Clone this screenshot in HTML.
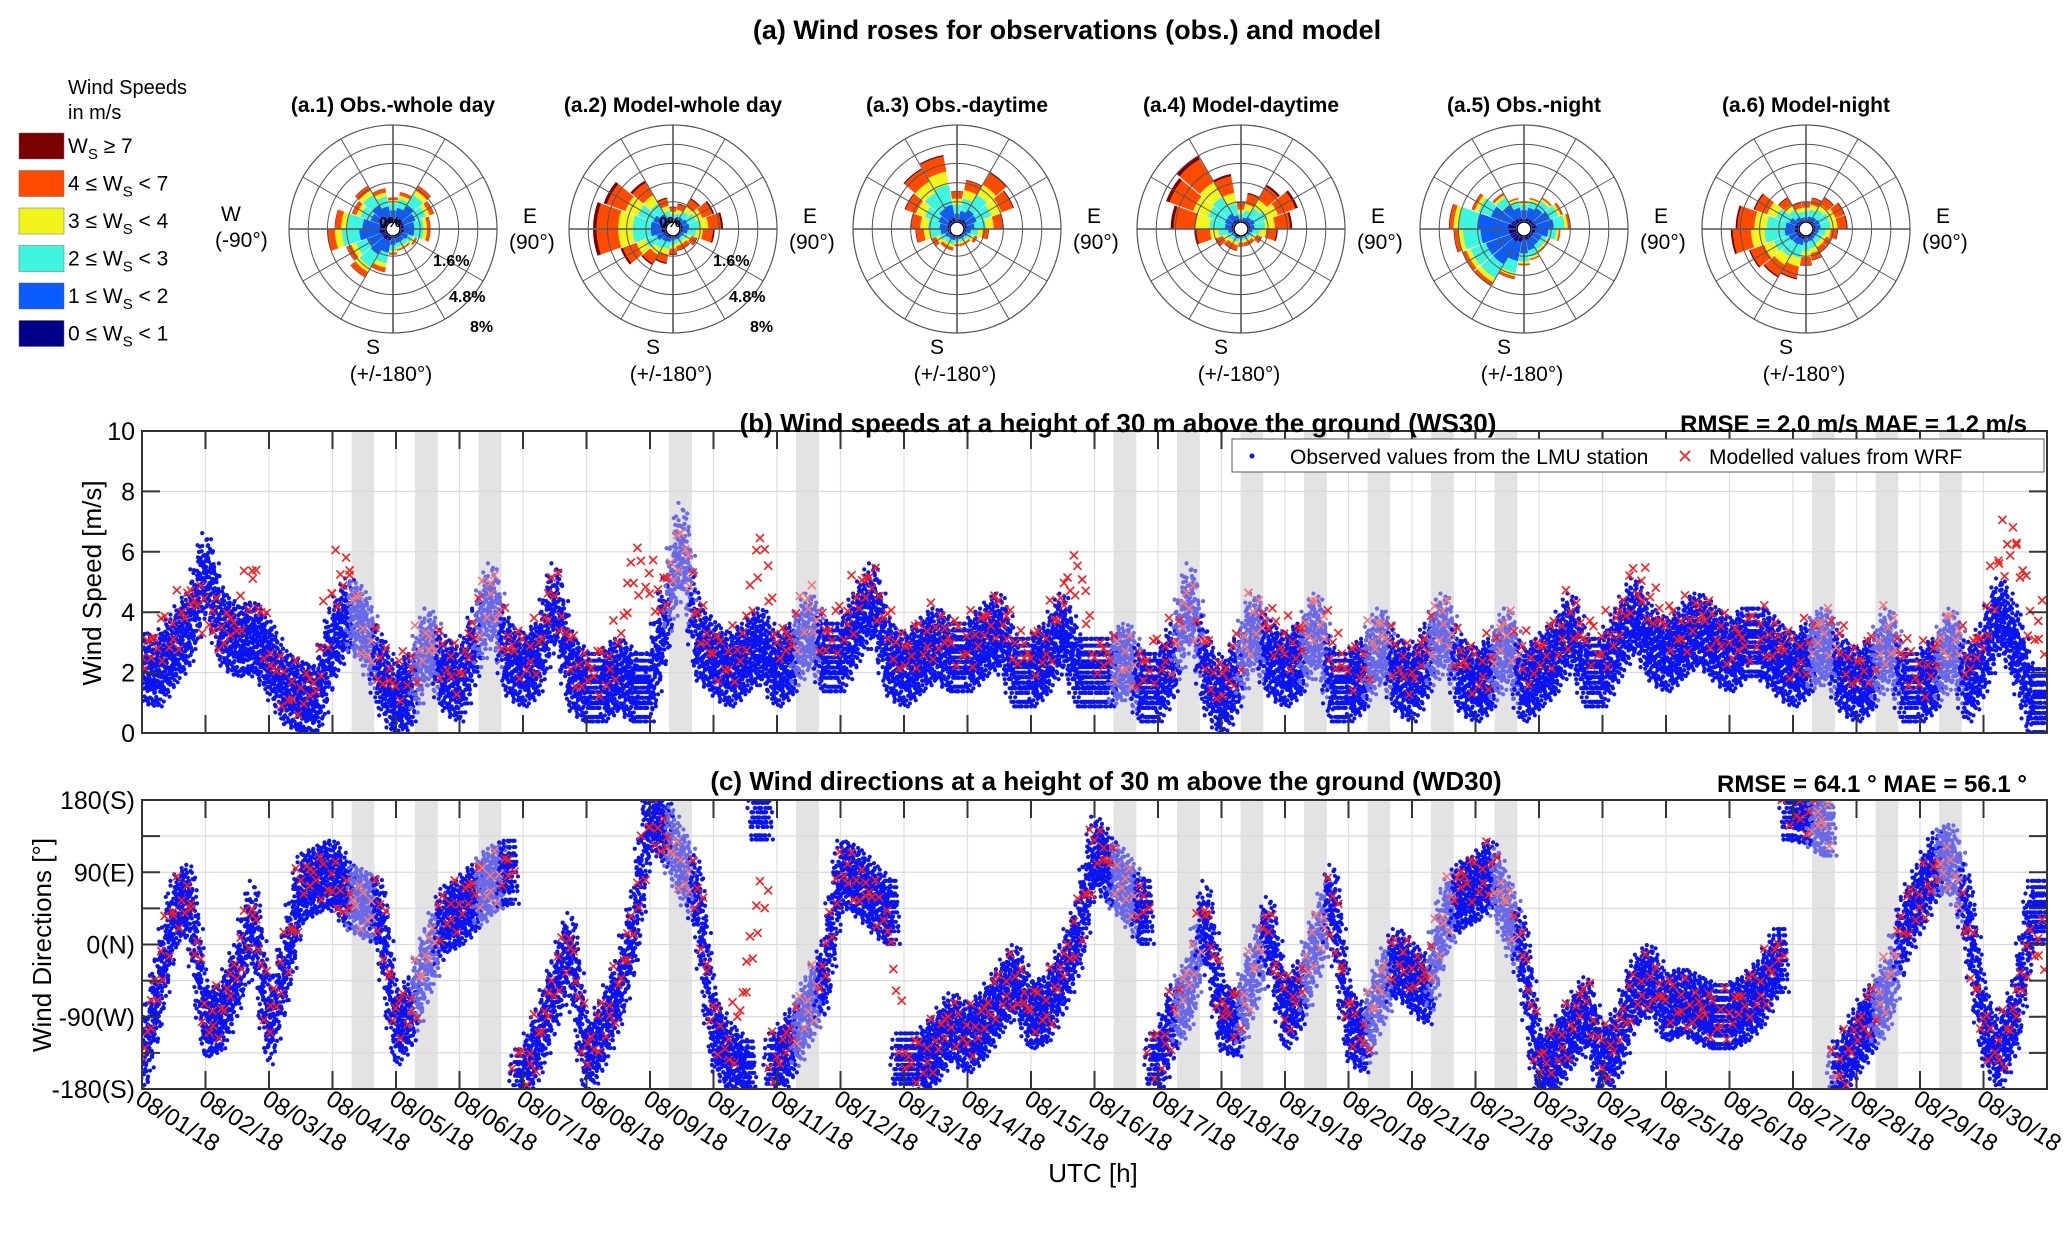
<!DOCTYPE html>
<html><head><meta charset="utf-8"><style>
body{margin:0;background:#fff}
svg{display:block;font-family:"Liberation Sans",Arial,sans-serif}
</style></head><body>
<svg id="fig" width="2067" height="1237" viewBox="0 0 2067 1237" xmlns="http://www.w3.org/2000/svg">
<defs>
<clipPath id="clipB"><rect x="142" y="431" width="1905" height="302"/></clipPath>
<clipPath id="clipC"><rect x="142" y="800" width="1905" height="289"/></clipPath>
</defs>
<text x="1067" y="39" text-anchor="middle" font-size="27" font-weight="bold">(a) Wind roses for observations (obs.) and model</text>
<g id="legendA">
<text x="68" y="94" font-size="20">Wind Speeds</text>
<text x="68" y="119" font-size="20">in m/s</text>
</g>
<g id="roses"></g>
<g id="panelB"></g>
<g id="panelC"></g>
</svg>
<script>
// ---------- data ----------
const speedClasses = ["W_S ≥ 7","4 ≤ W_S < 7","3 ≤ W_S < 4","2 ≤ W_S < 3","1 ≤ W_S < 2","0 ≤ W_S < 1"];
const classColors = ["#000088","#0a5cff","#3ef5e0","#f2f51a","#ff4a00","#7a0000"]; // inner->outer
const roseTitles = ["(a.1) Obs.-whole day","(a.2) Model-whole day","(a.3) Obs.-daytime","(a.4) Model-daytime","(a.5) Obs.-night","(a.6) Model-night"];
const roseA1 = [2,2.5,3.5,3,2.5,2.5,1.5,1.2,1.2,1.5,3,4,3.5,4.8,4.2,3,3.5,2.8];
const roseA2 = [1.2,1.5,2.3,3,3.5,2.8,1.5,1.2,1.2,1.5,2.3,2.8,4,6,6,5.5,4,2];
const roseA3 = [2.5,3.5,4.8,4.4,3.2,2,1.2,0.8,0.8,0.8,1.2,1.2,1.6,2.8,3.2,4,5.2,5.6];
const roseA4 = [1.6,2.4,3.6,4.4,3.6,2.4,1.2,0.8,0.8,0.8,1.2,1.2,1.6,3.2,5.2,6,6.4,4];
const roseA5 = [1.6,2,2.4,2.8,3.2,2.4,1.6,1.6,2,2.4,3.6,4.8,4.8,5.2,5.6,4,2.8,2];
const roseA6 = [1.6,2,2.4,2.8,2.8,2,1.6,1.6,2,2.4,3.6,4,4.4,5.6,5.2,4,2.4,1.6];
const fracA1 = [0.1,0.35,0.3,0.12,0.12,0.01];
const fracA2 = [0.05,0.15,0.25,0.2,0.3,0.05];
const fracA3 = [0.05,0.2,0.3,0.2,0.23,0.02];
const fracA4 = [0.03,0.1,0.25,0.22,0.35,0.05];
const fracA5 = [0.12,0.45,0.28,0.08,0.06,0.01];
const fracA6 = [0.05,0.15,0.3,0.2,0.27,0.03];
const dayLabels = ["08/01/18","08/02/18","08/03/18","08/04/18","08/05/18","08/06/18","08/07/18","08/08/18","08/09/18","08/10/18","08/11/18","08/12/18","08/13/18","08/14/18","08/15/18","08/16/18","08/17/18","08/18/18","08/19/18","08/20/18","08/21/18","08/22/18","08/23/18","08/24/18","08/25/18","08/26/18","08/27/18","08/28/18","08/29/18","08/30/18"];
const shadedDays = [3,4,5,8,10,15,16,17,18,19,20,21,26,27,28];
const wsTicks = [0,2,4,6,8,10];
const wdTicks = [-180,-90,0,90,180];
const wdTickLabels = ["-180(S)","-90(W)","0(N)","90(E)","180(S)"];
// 6-hourly samples (00,06,12,18 UTC)
const obsWS = [2.2,2.0,2.8,3.5, 5.5,3.5,3.0,3.2, 2.5,1.5,1.2,1.0, 3.0,4.0,3.5,2.0, 1.0,1.5,3.0,2.0, 1.5,3.0,4.5,2.5, 2.0,2.5,4.5,2.0, 1.5,1.5,2.0,1.5, 1.5,4.0,6.5,3.0, 2.5,2.0,2.5,3.0, 2.0,2.5,3.5,2.5, 2.5,3.5,4.5,2.5, 2.0,2.5,3.0,2.5, 2.5,3.0,3.5,2.0, 2.0,2.5,3.5,2.0, 2.0,2.0,2.5,1.5, 1.5,2.5,4.5,2.0, 1.0,2.0,3.5,2.5, 2.0,2.5,3.5,1.5, 1.5,2.0,3.0,2.0, 1.5,2.5,3.5,2.0, 1.5,2.0,3.0,1.5, 2.0,2.5,3.5,2.0, 2.0,3.0,4.0,3.0, 2.5,3.0,3.5,3.0, 2.5,3.0,3.0,2.5, 2.0,2.5,3.0,2.0, 1.5,2.0,3.0,1.5, 1.5,2.0,3.0,1.5, 2.5,4.0,3.0,1.0];
const modWS = [2.5,3.0,3.5,4.5, 4.0,3.5,3.5,5.5, 2.5,1.5,1.5,1.5, 5.0,5.5,3.0,2.5, 1.5,2.5,3.0,2.5, 2.0,3.5,5.0,3.0, 2.5,3.0,5.0,2.5, 2.0,2.0,3.0,5.5, 5.0,4.5,6.5,4.0, 2.5,2.5,3.0,6.5, 3.0,3.0,4.5,3.0, 3.5,4.5,5.0,3.5, 2.5,3.0,3.5,3.0, 3.0,3.5,4.0,3.0, 2.5,3.0,4.5,5.5, 2.5,2.5,2.5,2.0, 2.5,3.0,4.5,2.5, 1.5,2.5,4.0,3.5, 3.0,3.0,4.0,3.0, 2.0,2.5,3.5,2.5, 2.0,3.0,4.0,2.5, 2.0,2.5,3.5,2.5, 2.5,3.0,4.0,3.0, 3.0,3.5,5.0,4.5, 3.5,3.5,4.0,3.5, 3.0,3.0,3.5,3.0, 2.5,3.0,3.5,3.0, 2.0,2.5,3.5,2.5, 2.0,2.5,3.5,2.5, 3.0,6.0,6.5,3.5];
const obsWD = [-150,-60,40,60, -100,-90,-40,40, -110,-30,70,80, 90,60,50,40, -110,-80,-20,30, 40,60,80,90, -170,-120,-60,0, -150,-110,-60,20, 170,140,100,60, -110,-140,-160,170, -150,-120,-80,-40, 90,80,60,40, -150,-150,-130,-100, -120,-100,-70,-40, -90,-80,-40,10, 120,90,70,40, -150,-90,-60,40, -90,-100,-40,20, -90,-60,0,60, -100,-120,-60,-20, -40,-60,30,60, 70,90,40,-10, -160,-140,-110,-80, -150,-120,-60,-40, -80,-70,-80,-90, -90,-80,-60,-20, 170,165,150,-160, -120,-90,-60,20, 60,100,110,40, -100,-140,-90,40];
const modWD = [-140,-50,50,60, -95,-80,-30,50, -100,-20,80,85, 80,55,45,50, -100,-70,-10,40, 50,70,80,95, -160,-110,-50,10, -140,-100,-50,30, 160,130,90,70, -100,-130,-50,60, -140,-110,-70,-30, 100,80,60,30, -145,-145,-120,-95, -110,-95,-60,-40, -85,-75,-30,20, 130,100,70,50, -140,-80,-40,50, -80,-90,-30,30, -80,-50,10,60, -95,-110,-50,-10, -30,-40,40,80, 80,100,50,0, -150,-130,-100,-60, -140,-110,-60,-40, -70,-70,-80,-90, -85,-70,-50,-10, 175,165,150,-150, -110,-80,-40,30, 60,90,100,20, -110,-130,-80,0];

// ---------- helpers ----------
const NS="http://www.w3.org/2000/svg";
function mk(tag,attrs,parent){const e=document.createElementNS(NS,tag);for(const k in attrs)e.setAttribute(k,attrs[k]);parent.appendChild(e);return e;}
function txt(s,attrs,parent){const e=mk('text',attrs,parent);e.textContent=s;return e;}

// ---------- legend ----------
const legA=document.getElementById('legendA');
const legColorsTopDown=["#7a0000","#ff4a00","#f2f51a","#3ef5e0","#0a5cff","#000088"];
const legTexts=[["","≥ 7"],["4 ≤ ","< 7"],["3 ≤ ","< 4"],["2 ≤ ","< 3"],["1 ≤ ","< 2"],["0 ≤ ","< 1"]];
for(let i=0;i<6;i++){
  const y=133+i*37.5;
  const r=mk('rect',{x:19,y:y,width:45,height:26,fill:legColorsTopDown[i],stroke:"#666","stroke-width":0.5},legA);
  
  
  const t=mk('text',{x:68,y:y+20,"font-size":21},legA);
  
  
  const a=document.createElementNS(NS,'tspan');a.textContent=legTexts[i][0]+"W";t.appendChild(a);
  const b=document.createElementNS(NS,'tspan');b.textContent="S";b.setAttribute('dy','6');b.setAttribute('font-size','15');t.appendChild(b);
  const c=document.createElementNS(NS,'tspan');c.textContent=" "+legTexts[i][1];c.setAttribute('dy','-6');t.appendChild(c);
}

// ---------- roses ----------
const roseData=[roseA1,roseA2,roseA3,roseA4,roseA5,roseA6];
const roseFrac=[fracA1,fracA2,fracA3,fracA4,fracA5,fracA6];
const roseCx=[393,673,957,1241,1524,1806];
const roseCy=229, R=104, hole=8, maxPct=8;
const roses=document.getElementById('roses');
function rr(p){return hole+(p/maxPct)*(R-hole);}
function pt(cx,cy,r,deg){const a=(deg-90)*Math.PI/180;return [cx+r*Math.cos(a),cy+r*Math.sin(a)];}
roseData.forEach((d,k)=>{
  const cx=roseCx[k],cy=roseCy;
  const g=mk('g',{},roses);
  
  
  const tt=txt(roseTitles[k],{x:cx,y:112,"text-anchor":"middle","font-size":21,"font-weight":"bold"},g);
  
  
  mk('circle',{cx:cx,cy:cy,r:R,fill:"#fff",stroke:"#555","stroke-width":1.2},g);
  const n=d.length, w=360/n;
  d.forEach((tot,i)=>{
    const c=i*w; let acc=0;
    const fr=roseFrac[k];
    const segs=[];
    for(let j=0;j<6;j++){const r0=rr(acc);acc+=tot*fr[j];const r1=rr(acc);segs.push([r0,r1,j]);}
    segs.forEach(([r0,r1,j])=>{
      if(r1-r0<0.3)return;
      const a0=c-w/2+0.5,a1=c+w/2-0.5;
      const p1=pt(cx,cy,r0,a0),p2=pt(cx,cy,r1,a0),p3=pt(cx,cy,r1,a1),p4=pt(cx,cy,r0,a1);
      const p=mk('path',{d:`M${p1}L${p2}A${r1},${r1} 0 0 1 ${p3}L${p4}A${r0},${r0} 0 0 0 ${p1}Z`,fill:classColors[j]},g);
      
      
    });
  });
  for(let q=1;q<=4;q++) mk('circle',{cx:cx,cy:cy,r:rr(q*1.6),fill:"none",stroke:"#555","stroke-width":1},g);
  for(let a=0;a<360;a+=30){const p0=pt(cx,cy,hole,a),p1=pt(cx,cy,R,a);mk('line',{x1:p0[0],y1:p0[1],x2:p1[0],y2:p1[1],stroke:"#555","stroke-width":a%90==0?1.6:1},g);}
  mk('circle',{cx:cx,cy:cy,r:hole-1,fill:"#fff",stroke:"#000","stroke-width":1.5},g);
  if(k<2){
    txt("0%",{x:cx-3,y:cy-2,"text-anchor":"middle","font-size":15,"font-weight":"bold"},g);
    txt("1.6%",{x:cx+40,y:cy+37,"font-size":16,"font-weight":"bold"},g);
    txt("4.8%",{x:cx+56,y:cy+73,"font-size":16,"font-weight":"bold"},g);
    txt("8%",{x:cx+77,y:cy+103,"font-size":16,"font-weight":"bold"},g);
  }
  if(k==0){txt("W",{x:cx-172,y:cy-8,"font-size":21},g);txt("(-90°)",{x:cx-178,y:cy+18,"font-size":21},g);}
  txt("E",{x:cx+130,y:cy-6,"font-size":21},g);
  txt("(90°)",{x:cx+116,y:cy+20,"font-size":21},g);
  txt("S",{x:cx-27,y:cy+125,"font-size":21},g);
  txt("(+/-180°)",{x:cx-2,y:cy+152,"text-anchor":"middle","font-size":21},g);
});

// ---------- time series ----------
const X0=142,X1=2047,NDAYS=30;
function xs(d){return X0+d*(X1-X0)/NDAYS;}
const B={top:431,bot:733}, C={top:800,bot:1089};
function yWS(v){return B.bot-(v/10)*(B.bot-B.top);}
function yWD(a){return C.bot-((a+180)/360)*(C.bot-C.top);}
function inShade(d){return shadedDays.some(s=>d>=s+0.3&&d<=s+0.66);}
// fixed scatter pattern (visual texture only)
const jit=[[0,0],[1.5,-0.8],[-1.2,0.9],[0.6,0.45],[-0.7,-0.5],[1.1,0.2],[-1.6,-0.25],[0.3,-1.2],[-0.4,1.3],[1.8,0.7],[-1.9,-0.9],[0.9,-0.35],[-0.2,0.65],[1.3,1.5],[-1.1,-1.5]];

function drawAxes(g,P,yfun,grid){
  shadedDays.forEach(s=>{const r=mk('rect',{x:xs(s+0.3),y:P.top,width:xs(s+0.66)-xs(s+0.3),height:P.bot-P.top,fill:"#e3e3e3"},g);
    
    });
  for(let i=0;i<=NDAYS;i++) mk('line',{x1:xs(i),x2:xs(i),y1:P.top,y2:P.bot,stroke:"#e0e0e0","stroke-width":1.2},g);
  grid.forEach(v=>mk('line',{x1:X0,x2:X1,y1:yfun(v),y2:yfun(v),stroke:"#dadada","stroke-width":1.2},g));
}
function drawFrame(g,P,yfun,ticks,labels,minor){
  mk('rect',{x:X0,y:P.top,width:X1-X0,height:P.bot-P.top,fill:"none",stroke:"#333","stroke-width":2},g);
  for(let i=0;i<NDAYS;i++){mk('line',{x1:xs(i),x2:xs(i),y1:P.bot,y2:P.bot-18,stroke:"#333","stroke-width":2},g);mk('line',{x1:xs(i),x2:xs(i),y1:P.top,y2:P.top+18,stroke:"#333","stroke-width":2},g);}
  minor.forEach(v=>{mk('line',{x1:X0,x2:X0+18,y1:yfun(v),y2:yfun(v),stroke:"#333","stroke-width":2},g);mk('line',{x1:X1,x2:X1-18,y1:yfun(v),y2:yfun(v),stroke:"#333","stroke-width":2},g);});
  ticks.forEach((v,i)=>{const t=txt(labels[i],{x:X0-7,y:yfun(v)+9,"text-anchor":"end","font-size":25},g);
    
    });
}
function scatter(g,obs,mod,yfun,spread,isDir){
  const n=obs.length;
  for(let i=0;i<n;i++){
    const a=obs[i], b=i<n-1?obs[i+1]:obs[i];
    const wrap=isDir&&Math.abs(b-a)>180;
    for(let s=0;s<10;s++){
      const f=s/10, d=(i+f)*0.25;
      const v=wrap?(f<0.5?a:b):a+(b-a)*f;
      const col=inShade(d)?"#6a6ae8":"#0a14f0";
      jit.forEach(([dx,dy],q)=>{
        const jj=jit[(q+s)%jit.length];
        const c=mk('circle',{cx:xs(d)+dx*3,cy:yfun(v)+jj[1]*spread*0.75,r:2.1,fill:col},g);
        
        
      });
    }
  }
  for(let i=0;i<n;i++){
    const a=mod[i], b=i<n-1?mod[i+1]:mod[i];
    const wrap=isDir&&Math.abs(b-a)>180;
    for(let s=0;s<6;s++){
      const f=s/6, d=(i+f)*0.25;
      const v=wrap?(f<0.5?a:b):a+(b-a)*f;
      const col=inShade(d)?"#f07878":"#ff1a1a";
      const jj=jit[(i*6+s)%jit.length];
      const x=xs(d)+jj[0]*2, y=yfun(v)+jj[1]*spread*0.6;
      const p=mk('path',{d:`M${x-4},${y-4}L${x+4},${y+4}M${x-4},${y+4}L${x+4},${y-4}`,stroke:col,"stroke-width":1.6,fill:"none"},g);
      
      
    }
  }
}
// panel b
const gB=document.getElementById('panelB');
drawAxes(gB,B,yWS,wsTicks);
const sB=mk('g',{"clip-path":"url(#clipB)"},gB);
scatter(sB,obsWS,modWS,yWS,30,false);
drawFrame(gB,B,yWS,wsTicks,wsTicks.map(String),wsTicks);
txt("(b) Wind speeds at a height of 30 m above the ground (WS30)",{x:1118,y:432,"text-anchor":"middle","font-size":26,"font-weight":"bold"},gB);
txt("RMSE = 2.0 m/s MAE = 1.2 m/s",{x:2027,y:432,"text-anchor":"end","font-size":24,"font-weight":"bold"},gB);
const yb=txt("Wind Speed [m/s]",{x:0,y:0,"text-anchor":"middle","font-size":26,transform:"translate(101,583) rotate(-90)"},gB);


const lg=mk('g',{},gB);


mk('rect',{x:1232,y:439,width:812,height:33,fill:"#fff",stroke:"#555","stroke-width":1},lg);
mk('circle',{cx:1252,cy:456,r:2.5,fill:"#0a14f0"},lg);
txt("Observed values from the LMU station",{x:1290,y:464,"font-size":21},lg);
mk('path',{d:"M1680,451L1690,461M1680,461L1690,451",stroke:"#ff1a1a","stroke-width":1.6},lg);
txt("Modelled values from WRF",{x:1709,y:464,"font-size":21},lg);
// panel c
const gC=document.getElementById('panelC');
const wdGrid=[-180,-135,-90,-45,0,45,90,135,180];
drawAxes(gC,C,yWD,wdGrid);
const sC=mk('g',{"clip-path":"url(#clipC)"},gC);
scatter(sC,obsWD,modWD,yWD,28,true);
drawFrame(gC,C,yWD,wdTicks,wdTickLabels,wdGrid);
txt("(c) Wind directions at a height of 30 m above the ground (WD30)",{x:1106,y:790,"text-anchor":"middle","font-size":26,"font-weight":"bold"},gC);
txt("RMSE = 64.1 °  MAE = 56.1 °",{x:2027,y:792,"text-anchor":"end","font-size":24,"font-weight":"bold"},gC);
const yc=txt("Wind Directions [°]",{x:0,y:0,"text-anchor":"middle","font-size":26,transform:"translate(51,945) rotate(-90)"},gC);


dayLabels.forEach((s,i)=>{
  const t=txt(s,{x:0,y:0,"font-size":24,transform:`translate(${xs(i)-8},${C.bot+14}) rotate(32)`},gC);
  
  
});
const xt=txt("UTC [h]",{x:1093,y:1182,"text-anchor":"middle","font-size":26},gC);


</script>
</body></html>
